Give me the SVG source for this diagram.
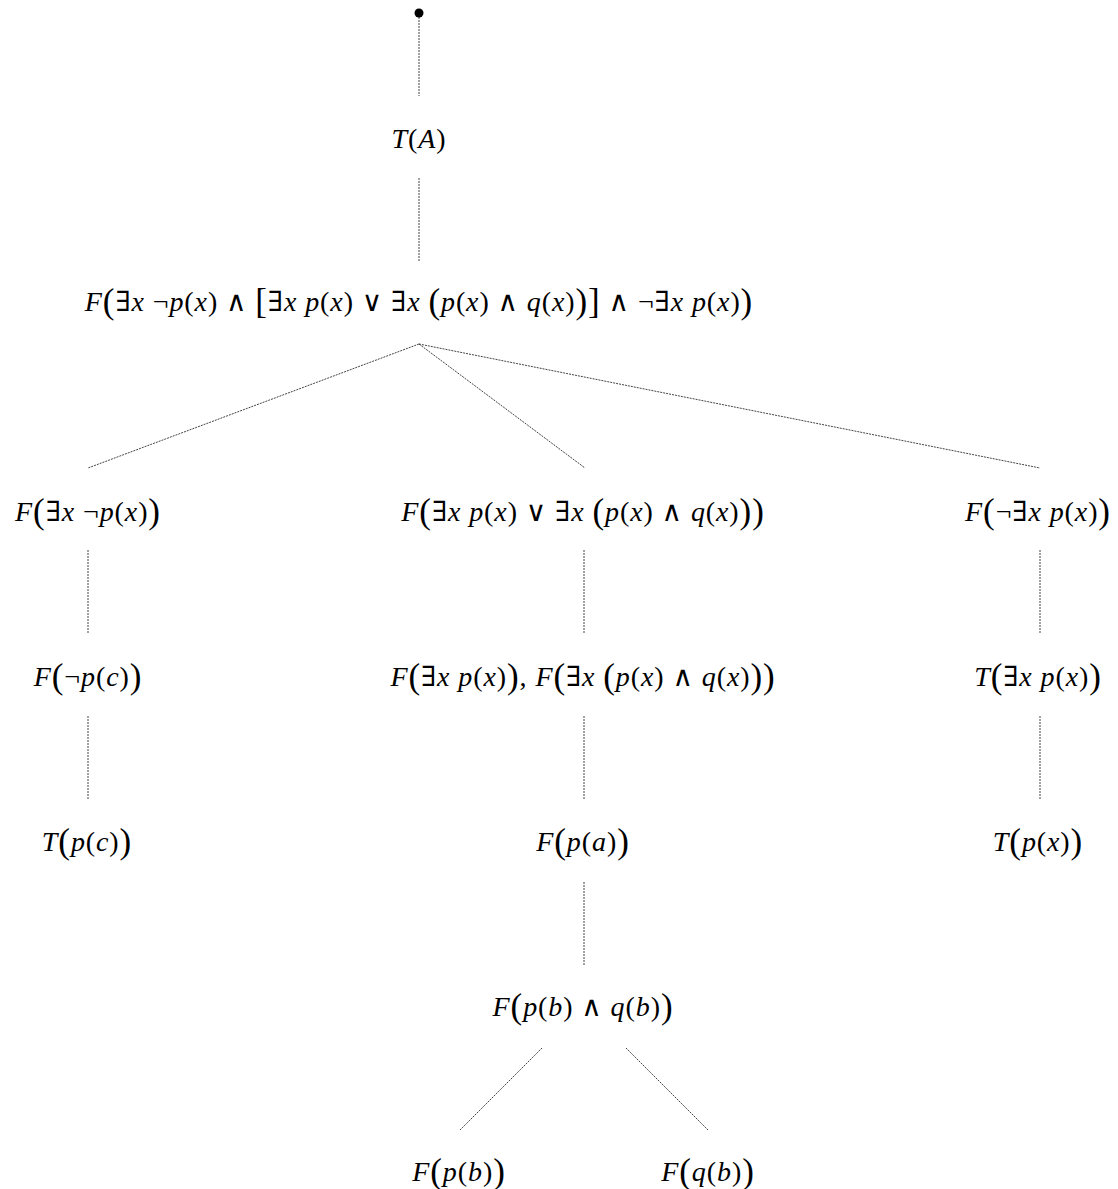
<svg xmlns="http://www.w3.org/2000/svg" width="1118" height="1189" viewBox="0 0 1118 1189">
<style>
  text { font-family: "Liberation Serif", "DejaVu Serif", serif; font-size: 28px; letter-spacing: 0.9px; fill: #000; text-anchor: middle; }
  .i { font-style: italic; }
  .b { font-size: 35px; font-weight: 300; }
  .edges line { stroke: #444; stroke-width: 1; stroke-dasharray: 2 1; }
</style>
<rect width="1118" height="1189" fill="#fff"/>

<g class="edges" id="connectors">
  <line x1="419" y1="14" x2="419" y2="96"/>
  <line x1="419" y1="178" x2="419" y2="262"/>
  <line x1="419" y1="344" x2="88" y2="468"/>
  <line x1="419" y1="344" x2="585" y2="468"/>
  <line x1="419" y1="344" x2="1040" y2="468"/>
  <line x1="88" y1="550" x2="88" y2="634"/>
  <line x1="584" y1="550" x2="584" y2="634"/>
  <line x1="1040" y1="550" x2="1040" y2="634"/>
  <line x1="88" y1="716" x2="88" y2="800"/>
  <line x1="584" y1="716" x2="584" y2="800"/>
  <line x1="1040" y1="716" x2="1040" y2="800"/>
  <line x1="584" y1="882" x2="584" y2="966"/>
  <line x1="542" y1="1048" x2="460" y2="1130"/>
  <line x1="626" y1="1048" x2="708" y2="1130"/>
</g>

<g id="root"><circle cx="419" cy="13" r="4.5" fill="#000"/></g>

<g id="n-TA"><text x="419" y="148"><tspan class="i">T</tspan>(<tspan class="i">A</tspan>)</text></g>

<g id="n-formula"><text x="419" y="311"><tspan class="i">F</tspan><tspan class="b" dy="2">(</tspan><tspan dy="-2">∃</tspan><tspan class="i">x</tspan> ¬<tspan class="i">p</tspan>(<tspan class="i">x</tspan>) ∧ <tspan class="b" dy="2">[</tspan><tspan dy="-2">∃</tspan><tspan class="i">x p</tspan>(<tspan class="i">x</tspan>) ∨ ∃<tspan class="i">x</tspan> <tspan class="b" dy="2">(</tspan><tspan class="i" dy="-2">p</tspan>(<tspan class="i">x</tspan>) ∧ <tspan class="i">q</tspan>(<tspan class="i">x</tspan>)<tspan class="b" dy="2">)]</tspan><tspan dy="-2"> ∧ ¬∃</tspan><tspan class="i">x p</tspan>(<tspan class="i">x</tspan>)<tspan class="b" dy="2">)</tspan></text></g>

<g id="n-L1"><text x="88" y="521"><tspan class="i">F</tspan><tspan class="b" dy="2">(</tspan><tspan dy="-2">∃</tspan><tspan class="i">x</tspan> ¬<tspan class="i">p</tspan>(<tspan class="i">x</tspan>)<tspan class="b" dy="2">)</tspan></text></g>

<g id="n-M1"><text x="583" y="521"><tspan class="i">F</tspan><tspan class="b" dy="2">(</tspan><tspan dy="-2">∃</tspan><tspan class="i">x p</tspan>(<tspan class="i">x</tspan>) ∨ ∃<tspan class="i">x</tspan> <tspan class="b" dy="2">(</tspan><tspan class="i" dy="-2">p</tspan>(<tspan class="i">x</tspan>) ∧ <tspan class="i">q</tspan>(<tspan class="i">x</tspan>)<tspan class="b" dy="2">))</tspan></text></g>

<g id="n-R1"><text x="1038" y="521"><tspan class="i">F</tspan><tspan class="b" dy="2">(</tspan><tspan dy="-2">¬∃</tspan><tspan class="i">x p</tspan>(<tspan class="i">x</tspan>)<tspan class="b" dy="2">)</tspan></text></g>

<g id="n-L2"><text x="88" y="686"><tspan class="i">F</tspan><tspan class="b" dy="2">(</tspan><tspan dy="-2">¬</tspan><tspan class="i">p</tspan>(<tspan class="i">c</tspan>)<tspan class="b" dy="2">)</tspan></text></g>

<g id="n-M2"><text x="583" y="686"><tspan class="i">F</tspan><tspan class="b" dy="2">(</tspan><tspan dy="-2">∃</tspan><tspan class="i">x p</tspan>(<tspan class="i">x</tspan>)<tspan class="b" dy="2">)</tspan><tspan dy="-2">, </tspan><tspan class="i">F</tspan><tspan class="b" dy="2">(</tspan><tspan dy="-2">∃</tspan><tspan class="i">x</tspan> <tspan class="b" dy="2">(</tspan><tspan class="i" dy="-2">p</tspan>(<tspan class="i">x</tspan>) ∧ <tspan class="i">q</tspan>(<tspan class="i">x</tspan>)<tspan class="b" dy="2">))</tspan></text></g>

<g id="n-R2"><text x="1038" y="686"><tspan class="i">T</tspan><tspan class="b" dy="2">(</tspan><tspan dy="-2">∃</tspan><tspan class="i">x p</tspan>(<tspan class="i">x</tspan>)<tspan class="b" dy="2">)</tspan></text></g>

<g id="n-L3"><text x="87" y="851"><tspan class="i">T</tspan><tspan class="b" dy="2">(</tspan><tspan class="i" dy="-2">p</tspan>(<tspan class="i">c</tspan>)<tspan class="b" dy="2">)</tspan></text></g>

<g id="n-M3"><text x="583" y="851"><tspan class="i">F</tspan><tspan class="b" dy="2">(</tspan><tspan class="i" dy="-2">p</tspan>(<tspan class="i">a</tspan>)<tspan class="b" dy="2">)</tspan></text></g>

<g id="n-R3"><text x="1038" y="851"><tspan class="i">T</tspan><tspan class="b" dy="2">(</tspan><tspan class="i" dy="-2">p</tspan>(<tspan class="i">x</tspan>)<tspan class="b" dy="2">)</tspan></text></g>

<g id="n-M4"><text x="583" y="1016"><tspan class="i">F</tspan><tspan class="b" dy="2">(</tspan><tspan class="i" dy="-2">p</tspan>(<tspan class="i">b</tspan>) ∧ <tspan class="i">q</tspan>(<tspan class="i">b</tspan>)<tspan class="b" dy="2">)</tspan></text></g>

<g id="n-M5a"><text x="459" y="1181"><tspan class="i">F</tspan><tspan class="b" dy="2">(</tspan><tspan class="i" dy="-2">p</tspan>(<tspan class="i">b</tspan>)<tspan class="b" dy="2">)</tspan></text></g>

<g id="n-M5b"><text x="708" y="1181"><tspan class="i">F</tspan><tspan class="b" dy="2">(</tspan><tspan class="i" dy="-2">q</tspan>(<tspan class="i">b</tspan>)<tspan class="b" dy="2">)</tspan></text></g>
</svg>
